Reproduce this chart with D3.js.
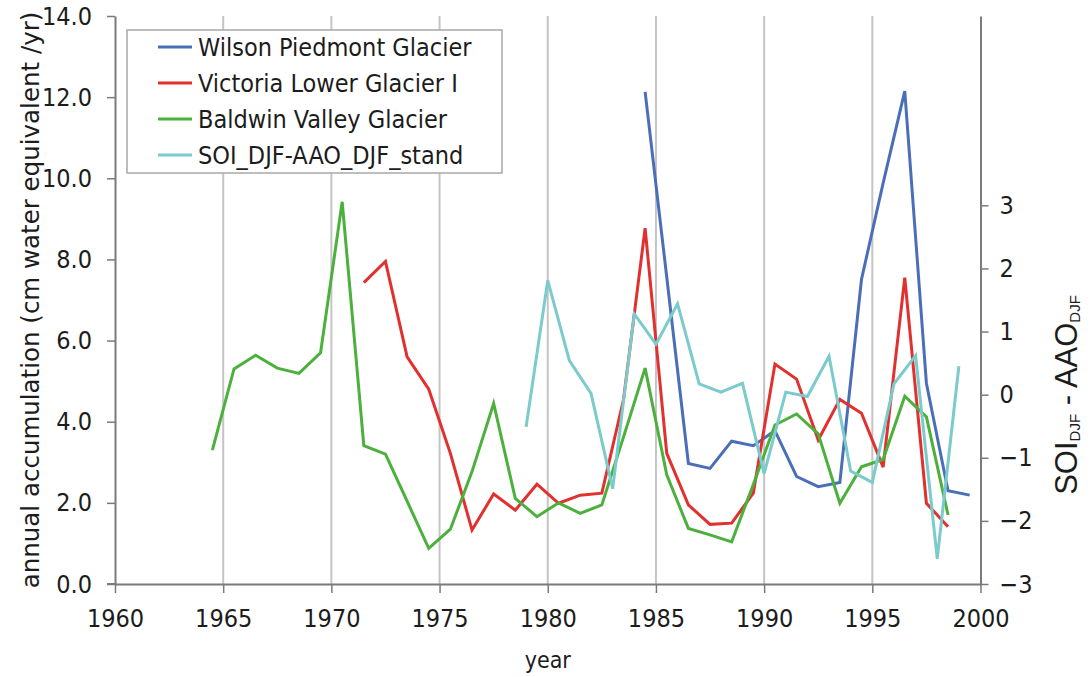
<!DOCTYPE html>
<html>
<head>
<meta charset="utf-8">
<script src="https://cdn.jsdelivr.net/npm/d3@7"></script>
<style>
  body { margin: 0; background: #fff; }
  text { font-family: "DejaVu Sans Condensed", "DejaVu Sans", sans-serif; fill: #1c1c1c; }
</style>
</head>
<body>
<svg></svg>
<script>
// glacier accumulation (cm w.e./yr), points sit mid-year
const wilsonYears = [1984.5, 1985.5, 1986.5, 1987.5, 1988.5, 1989.5, 1990.5, 1991.5, 1992.5, 1993.5, 1994.5, 1995.5, 1996.5, 1997.5, 1998.5, 1999.5];
const wilsonValues = [12.13, 7.56, 2.97, 2.85, 3.52, 3.41, 3.78, 2.65, 2.40, 2.50, 7.51, 9.88, 12.15, 4.95, 2.30, 2.19];

const victoriaYears = [1971.5, 1972.5, 1973.5, 1974.5, 1975.5, 1976.5, 1977.5, 1978.5, 1979.5, 1980.5, 1981.5, 1982.5, 1983.5, 1984.5, 1985.5, 1986.5, 1987.5, 1988.5, 1989.5, 1990.5, 1991.5, 1992.5, 1993.5, 1994.5, 1995.5, 1996.5, 1997.5, 1998.5];
const victoriaValues = [7.43, 7.95, 5.60, 4.80, 3.22, 1.33, 2.22, 1.82, 2.46, 1.99, 2.19, 2.24, 4.54, 8.77, 3.22, 1.95, 1.47, 1.50, 2.24, 5.42, 5.05, 3.55, 4.55, 4.21, 2.88, 7.55, 1.99, 1.41];

const baldwinYears = [1964.5, 1965.5, 1966.5, 1967.5, 1968.5, 1969.5, 1970.5, 1971.5, 1972.5, 1973.5, 1974.5, 1975.5, 1976.5, 1977.5, 1978.5, 1979.5, 1980.5, 1981.5, 1982.5, 1983.5, 1984.5, 1985.5, 1986.5, 1987.5, 1988.5, 1989.5, 1990.5, 1991.5, 1992.5, 1993.5, 1994.5, 1995.5, 1996.5, 1997.5, 1998.5];
const baldwinValues = [3.30, 5.30, 5.64, 5.32, 5.19, 5.70, 9.42, 3.41, 3.20, 2.04, 0.88, 1.35, 2.77, 4.45, 2.11, 1.66, 2.00, 1.74, 1.95, 3.62, 5.32, 2.69, 1.37, 1.21, 1.04, 2.45, 3.92, 4.19, 3.70, 1.99, 2.89, 3.07, 4.63, 4.12, 1.70];

// standardised index, right axis
const soiYears = [1979, 1980, 1981, 1982, 1983, 1984, 1985, 1986, 1987, 1988, 1989, 1990, 1991, 1992, 1993, 1994, 1995, 1996, 1997, 1998, 1999];
const soiValues = [-0.51, 1.81, 0.54, 0.02, -1.49, 1.28, 0.80, 1.44, 0.17, 0.04, 0.18, -1.25, 0.04, -0.03, 0.61, -1.21, -1.39, 0.17, 0.62, -2.60, 0.45];

const xTicks = [1960, 1965, 1970, 1975, 1980, 1985, 1990, 1995, 2000];
const leftTicks = [0, 2, 4, 6, 8, 10, 12, 14];
const rightTicks = [-3, -2, -1, 0, 1, 2, 3];

const seriesNames = ["Wilson Piedmont Glacier", "Victoria Lower Glacier I", "Baldwin Valley Glacier", "SOI_DJF-AAO_DJF_stand"];

const sizes = {
  svg: { width: 1090, height: 677 },
  plot: { left: 115, right: 980.5, top: 16, bottom: 584 },
  font: 25
};

const colors = {
  wilson: "#4a6fb8",
  victoria: "#e2302e",
  baldwin: "#4cb03c",
  soi: "#7ccbcc",
  grid: "#c4c4c4",
  axis: "#7a7a7a"
};

const svg = d3.select("svg")
  .attr("width", sizes.svg.width)
  .attr("height", sizes.svg.height);

const x = d3.scaleLinear().domain([1960, 2000]).range([sizes.plot.left, sizes.plot.right]);
const yLeft = d3.scaleLinear().domain([0, 14]).range([sizes.plot.bottom, sizes.plot.top]);
const yRight = d3.scaleLinear().domain([-3, 6]).range([sizes.plot.bottom, sizes.plot.top]);

// vertical gridlines
svg.append("g")
  .selectAll("line")
  .data(xTicks.slice(1, -1))
  .join("line")
  .attr("x1", d => x(d))
  .attr("x2", d => x(d))
  .attr("y1", sizes.plot.top)
  .attr("y2", sizes.plot.bottom)
  .attr("stroke", colors.grid)
  .attr("stroke-width", 2);

function styleAxis(g) {
  g.select(".domain").attr("stroke", colors.axis).attr("stroke-width", 2);
  g.selectAll(".tick line").attr("stroke", colors.axis).attr("stroke-width", 1.5);
  g.selectAll(".tick text").attr("font-size", sizes.font).attr("fill", "#1c1c1c")
    .style("font-family", '"DejaVu Sans Condensed", "DejaVu Sans", sans-serif');
}

svg.append("g")
  .attr("transform", `translate(${sizes.plot.left},0)`)
  .call(d3.axisLeft(yLeft).tickValues(leftTicks).tickFormat(d3.format(".1f")).tickSize(8).tickSizeOuter(0).tickPadding(15))
  .call(styleAxis);

svg.append("g")
  .attr("transform", `translate(${sizes.plot.right},0)`)
  .call(d3.axisRight(yRight).tickValues(rightTicks).tickFormat(d3.format("d")).tickSize(8).tickSizeOuter(0).tickPadding(11))
  .call(styleAxis);

svg.append("g")
  .attr("transform", `translate(0,${sizes.plot.bottom})`)
  .call(d3.axisBottom(x).tickValues(xTicks).tickFormat(d3.format("d")).tickSize(9).tickSizeOuter(0).tickPadding(16))
  .call(styleAxis);

svg.append("line")
  .attr("x1", sizes.plot.left - 8).attr("x2", sizes.plot.left)
  .attr("y1", sizes.plot.bottom).attr("y2", sizes.plot.bottom)
  .attr("stroke", colors.axis).attr("stroke-width", 2);

const leftLine = d3.line().x(d => x(d[0])).y(d => yLeft(d[1]));
const rightLine = d3.line().x(d => x(d[0])).y(d => yRight(d[1]));

const series = [
  { years: wilsonYears, values: wilsonValues, color: colors.wilson, line: leftLine },
  { years: victoriaYears, values: victoriaValues, color: colors.victoria, line: leftLine },
  { years: baldwinYears, values: baldwinValues, color: colors.baldwin, line: leftLine },
  { years: soiYears, values: soiValues, color: colors.soi, line: rightLine }
];

series.forEach(s => {
  svg.append("path")
    .attr("d", s.line(d3.zip(s.years, s.values)))
    .attr("fill", "none")
    .attr("stroke", s.color)
    .attr("stroke-width", 3)
    .attr("stroke-linejoin", "miter");
});

// legend
const legend = svg.append("g").attr("transform", "translate(127,30)");
legend.append("rect")
  .attr("width", 375)
  .attr("height", 143)
  .attr("fill", "#fff")
  .attr("stroke", "#a8a8a8")
  .attr("stroke-width", 1.5);

const legendRows = legend.selectAll("g.row")
  .data(seriesNames)
  .join("g")
  .attr("class", "row")
  .attr("transform", (d, i) => `translate(0,${17 + i * 36})`);

legendRows.append("line")
  .attr("x1", 31).attr("x2", 65)
  .attr("stroke", (d, i) => series[i].color)
  .attr("stroke-width", 3);

legendRows.append("text")
  .attr("x", 71)
  .attr("dy", "0.35em")
  .attr("font-size", sizes.font)
  .text(d => d);

// axis titles
svg.append("text")
  .attr("transform", "translate(39,300) rotate(-90)")
  .attr("text-anchor", "middle")
  .attr("font-size", 24.5)
  .style("font-family", '"DejaVu Sans", sans-serif')
  .text("annual accumulation (cm water equivalent /yr)");

svg.append("text")
  .attr("x", (sizes.plot.left + sizes.plot.right) / 2)
  .attr("y", 668)
  .attr("text-anchor", "middle")
  .attr("font-size", 23)
  .text("year");

const rightTitle = svg.append("text")
  .attr("transform", "translate(1077,395) rotate(-90)")
  .attr("text-anchor", "middle")
  .attr("font-size", 31)
  .style("font-family", '"Liberation Sans", Arial, sans-serif');
rightTitle.append("tspan").text("SOI");
rightTitle.append("tspan").attr("font-size", 15).attr("dy", 3).text("DJF");
rightTitle.append("tspan").attr("dy", -3).text(" - AAO");
rightTitle.append("tspan").attr("font-size", 15).attr("dy", 3).text("DJF");
</script>
</body>
</html>
